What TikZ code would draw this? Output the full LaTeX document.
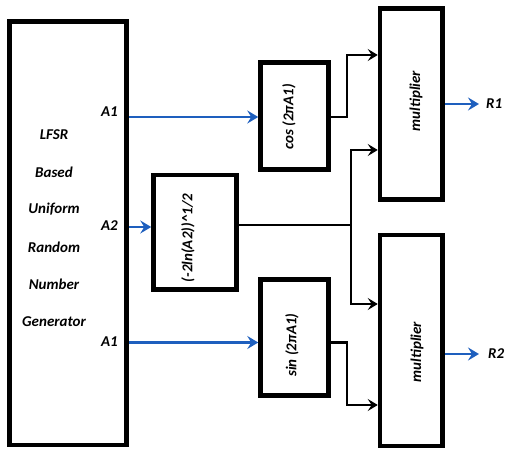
\documentclass[tikz,border=0pt]{standalone}
\usepackage{fontspec}
\setmainfont{Carlito}
\usetikzlibrary{arrows.meta}
\definecolor{arrowblue}{RGB}{30,95,190}
\begin{document}
\begin{tikzpicture}[x=1pt,y=-1pt,
  blk/.style={draw=black,line width=4.5pt,fill=white,inner sep=0pt,rectangle},
  lbl/.style={font=\fontsize{15}{17}\selectfont\bfseries\itshape,inner sep=0pt},
  rlbl/.style={lbl,rotate=90},
  bluearrow/.style={draw=arrowblue,line width=2.8pt,-{Stealth[length=11pt,width=13pt,inset=4pt]}},
  blackarrow/.style={draw=black,line width=2.1pt,-{Stealth[length=10pt,width=12pt,inset=4pt]}},
  wire/.style={draw=black,line width=2.1pt}]
\useasboundingbox (0,0) rectangle (507,449);
% blocks
\node[blk,minimum width=117pt,minimum height=423.5pt] (lfsr) at (68,233.25) {};
\node[blk,minimum width=68pt,minimum height=107pt] (cos) at (294.5,116) {};
\node[blk,minimum width=83pt,minimum height=114.5pt] (sqrt) at (195,232.25) {};
\node[blk,minimum width=68pt,minimum height=116pt] (sin) at (294.5,337.5) {};
\node[blk,minimum width=62.5pt,minimum height=191pt] (mul1) at (411.25,104) {};
\node[blk,minimum width=62.5pt,minimum height=211pt] (mul2) at (411.25,340.5) {};
% texts
\node[lbl] (t1) at (54,135) {LFSR};
\node[lbl] (t2) at (54,172) {Based};
\node[lbl] (t3) at (54,209) {Uniform};
\node[lbl] (t4) at (54,247) {Random};
\node[lbl] (t5) at (54,284) {Number};
\node[lbl] (t6) at (54,322) {Generator};
\node[lbl,anchor=east] (a1) at (118,112) {A1};
\node[lbl,anchor=east] (a2) at (118,226) {A2};
\node[lbl,anchor=east] (a3) at (118,341.5) {A1};
\node[rlbl] (tcos) at (289,117) {cos (2πA1)};
\node[rlbl] (tsqrt) at (188,238) {(-2ln(A2))\textasciicircum 1/2};
\node[rlbl] (tsin) at (292,345) {sin (2πA1)};
\node[rlbl] (tm1) at (416,101) {multiplier};
\node[rlbl] (tm2) at (417,352) {multiplier};
\node[lbl,anchor=west] (r1) at (486,104) {R1};
\node[lbl,anchor=west] (r2) at (488,354) {R2};
% level coordinates
\coordinate (ya1) at (0,117);
\coordinate (ya2) at (0,227);
\coordinate (ya3) at (0,342.5);
\coordinate (j1) at (347,55);
\coordinate (j2) at (351,225);
\coordinate (j2t) at (351,150);
\coordinate (j2b) at (351,304);
\coordinate (j3) at (347,405);
\coordinate (yr1) at (0,104);
\coordinate (yr2) at (0,354);
\coordinate (xr) at (479,0);
% blue inputs
\draw[bluearrow] (lfsr.east |- ya1) -- (cos.west |- ya1);
\draw[bluearrow] (lfsr.east |- ya2) -- (sqrt.west |- ya2);
\draw[bluearrow] (lfsr.east |- ya3) -- (sin.west |- ya3);
% outputs
\draw[bluearrow] (mul1.east |- yr1) -- (xr |- yr1);
\draw[bluearrow] (mul2.east |- yr2) -- (xr |- yr2);
% black wires
\draw[blackarrow] (cos.east |- ya1) -| (j1) -- (j1 -| mul1.west);
\draw[wire] (sqrt.east |- j2) -- (j2);
\draw[blackarrow] (j2) |- (j2t -| mul1.west);
\draw[blackarrow] (j2) |- (j2b -| mul2.west);
\draw[blackarrow] (sin.east |- ya3) -| (j3) -- (j3 -| mul2.west);
\end{tikzpicture}
\end{document}
